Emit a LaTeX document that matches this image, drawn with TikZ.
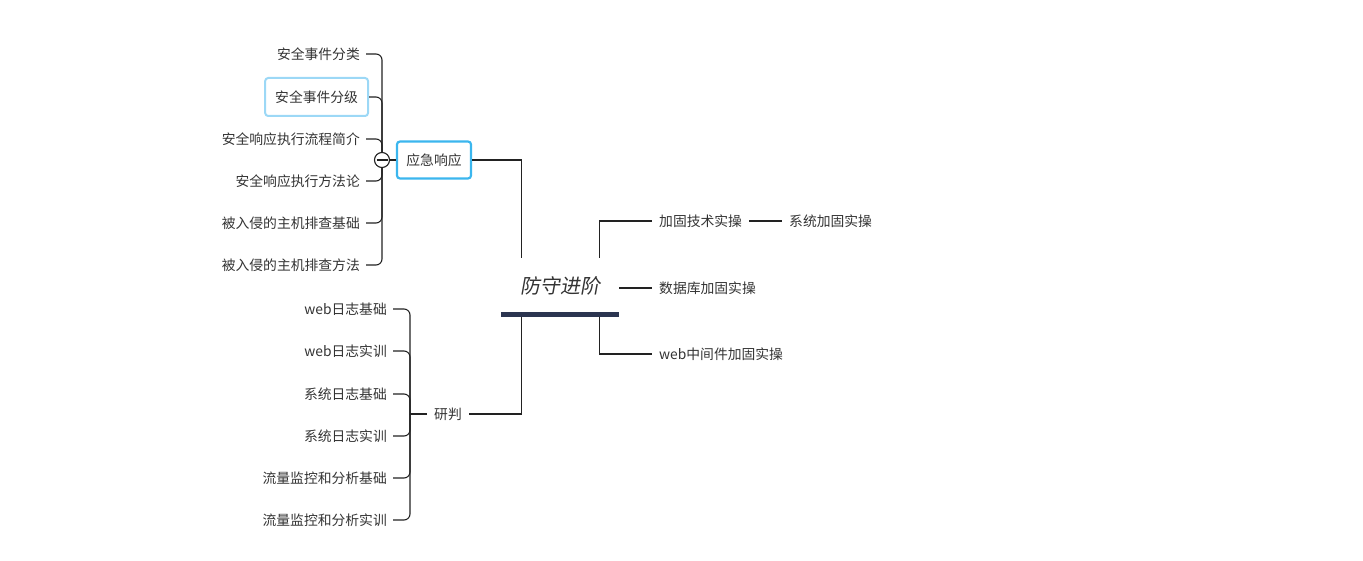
\documentclass[tikz,border=0pt]{standalone}
\usepackage{fontspec}
\setmainfont{Noto Sans CJK SC}
\newfontfamily\slantcjk[FakeSlant=0.18]{Noto Sans CJK SC}
\usetikzlibrary{calc}
\definecolor{inkgray}{HTML}{333333}
\definecolor{linegray}{HTML}{222222}
\definecolor{boxblue}{HTML}{3BB6EE}
\definecolor{paleblue}{HTML}{9CD8F6}
\definecolor{barnavy}{HTML}{2B3550}

\begin{document}
\begin{tikzpicture}[x=1pt, y=-1pt, font=\fontsize{13.8}{15}\selectfont, text=inkgray]
  \tikzset{
    leaf/.style={inner xsep=6pt, inner ysep=2pt},
    branch/.style={draw=boxblue, line width=2.2pt, rounded corners=3pt,
      minimum width=74pt, minimum height=37pt, inner xsep=8pt},
    picked/.style={draw=paleblue, line width=2pt, rounded corners=3pt,
      minimum height=38pt, inner xsep=10pt},
    link/.style={draw=linegray, line width=1.1pt},
    brace/.style={link, rounded corners=6pt}
  }
  \useasboundingbox (0,0) rectangle (1363,561);

  % root
  \node[minimum width=118pt, minimum height=56pt, inner sep=0pt,
        font=\slantcjk\fontsize{20}{22}\selectfont] (root) at (560,286) {防守进阶};
  \draw[barnavy, line width=5pt] (root.south west) -- (root.south east);

  % left top: 应急响应
  \node[branch] (yjxy) at (434,160) {应急响应};
  \draw[link] ($(root.north west)+(21,0)$) |- (yjxy.east);
  \coordinate (fold) at (382,160);
  \draw[link] (yjxy.west) -- ($(fold)+(7.5,0)$);

  \node[picked, anchor=east] (aq2) at (369,97) {安全事件分级};
  \draw[brace] (fold) -- (fold |- aq2.east) -- (aq2.east);
  \foreach \nm/\txt/\yy in {aq1/安全事件分类/54, aq3/安全响应执行流程简介/139,
      aq4/安全响应执行方法论/181, aq5/被入侵的主机排查基础/223,
      aq6/被入侵的主机排查方法/265}{
    \node[leaf, anchor=east] (\nm) at (366,\yy) {\txt};
    \draw[brace] (fold) -- (fold |- \nm.east) -- (\nm.east);
  }
  % collapse button
  \draw[linegray, line width=1.1pt, fill=white] (fold) circle (7.5pt);
  \draw[linegray, line width=1.1pt] ($(fold)+(-5.5,0)$) -- ($(fold)+(5.5,0)$);

  % left bottom: 研判
  \node[leaf, inner xsep=7pt] (yp) at (448,414) {研判};
  \draw[link] ($(root.south west)+(21,2.5)$) |- (yp.east);
  \coordinate (split) at (410,414);
  \draw[link] (yp.west) -- (split);
  \foreach \nm/\txt/\yy in {rz1/web日志基础/309, rz2/web日志实训/351,
      rz3/系统日志基础/394, rz4/系统日志实训/436,
      rz5/流量监控和分析基础/478, rz6/流量监控和分析实训/520}{
    \node[leaf, anchor=east] (\nm) at (393,\yy) {\txt};
    \draw[brace] (split) -- (split |- \nm.east) -- (\nm.east);
  }

  % right side
  \node[leaf, inner xsep=7pt, anchor=west] (jgjs) at (652,221) {加固技术实操};
  \node[leaf, inner xsep=7pt, anchor=west] (xtjg) at (782,221) {系统加固实操};
  \node[leaf, inner xsep=7pt, anchor=west] (sjk) at (652,288) {数据库加固实操};
  \node[leaf, inner xsep=7pt, anchor=west] (zjj) at (652,354) {web中间件加固实操};
  \draw[link] ($(root.north east)+(-20,0)$) |- (jgjs.west);
  \draw[link] (jgjs.east) -- (xtjg.west);
  \draw[link] (root.east |- sjk.west) -- (sjk.west);
  \draw[link] ($(root.south east)+(-20,2.5)$) |- (zjj.west);
\end{tikzpicture}
\end{document}
